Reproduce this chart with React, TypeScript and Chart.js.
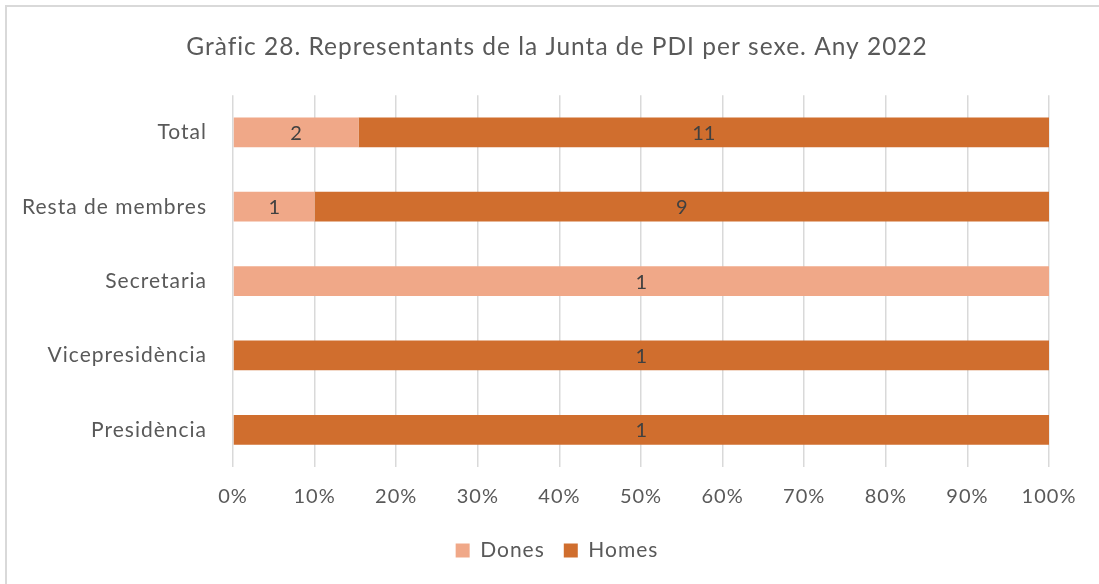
import React, { useEffect, useRef } from "react";
import { Chart, registerables } from "chart.js";

Chart.register(...registerables);

const TITLE = "Gràfic 28. Representants de la Junta de PDI per sexe. Any 2022";
const categories = ["Total", "Resta de membres", "Secretaria", "Vicepresidència", "Presidència"];
const dones = [2, 1, 1, 0, 0];
const homes = [11, 9, 0, 1, 1];
const xTicks = [0, 10, 20, 30, 40, 50, 60, 70, 80, 90, 100];

const COLOR_DONES = "#F0A888";
const COLOR_HOMES = "#D06E2E";
const TEXT = "#595959";
const FONT = "Lato, 'Open Sans', sans-serif";

const totals = categories.map((_, i) => dones[i] + homes[i]);
const pct = (arr: number[]) => arr.map((v, i) => (totals[i] ? (v / totals[i]) * 100 : 0));

const counts = [dones, homes];

const spacingPlugin = {
  id: "letterSpacing",
  beforeUpdate(chart: any) {
    chart.ctx.letterSpacing = "1px";
  },
  beforeDraw(chart: any) {
    chart.ctx.letterSpacing = "1px";
  },
};

const labelPlugin = {
  id: "countLabels",
  afterDatasetsDraw(chart: any) {
    const ctx = chart.ctx;
    ctx.save();
    ctx.letterSpacing = "0px";
    ctx.font = `20px ${FONT}`;
    ctx.fillStyle = "#404040";
    ctx.textAlign = "center";
    ctx.textBaseline = "middle";
    chart.data.datasets.forEach((_: any, di: number) => {
      const meta = chart.getDatasetMeta(di);
      meta.data.forEach((bar: any, i: number) => {
        const v = counts[di][i];
        if (!v) return;
        const x = (bar.x + bar.base) / 2;
        ctx.fillText(String(v), x, bar.y + 1);
      });
    });
    ctx.restore();
  },
};

export default function App() {
  const ref = useRef<HTMLCanvasElement | null>(null);
  useEffect(() => {
    if (!ref.current) return;
    const chart = new Chart(ref.current, {
      type: "bar",
      data: {
        labels: categories,
        datasets: [
          { label: "Dones", data: pct(dones), backgroundColor: COLOR_DONES, categoryPercentage: 1, barPercentage: 0.4 },
          { label: "Homes", data: pct(homes), backgroundColor: COLOR_HOMES, categoryPercentage: 1, barPercentage: 0.4 },
        ],
      },
      options: {
        indexAxis: "y",
        animation: false,
        responsive: false,
        maintainAspectRatio: false,
        layout: { padding: { left: 15, right: 0, top: 0, bottom: 13 } },
        plugins: {
          title: {
            display: true,
            text: TITLE,
            color: TEXT,
            font: { family: FONT, size: 24.5, weight: "normal" },
            padding: { top: 32, bottom: 33.8 },
          },
          legend: {
            position: "bottom",
            labels: {
              color: TEXT,
              font: { family: FONT, size: 21 },
              boxWidth: 14,
              boxHeight: 14,
              padding: 19,
            },
          },
          tooltip: { enabled: false },
        },
        scales: {
          x: {
            stacked: true,
            min: 0,
            max: 100,
            afterBuildTicks: (scale: any) => {
              scale.ticks = xTicks.map((v) => ({ value: v }));
            },
            afterFit: (scale: any) => {
              scale.height = 54;
            },
            ticks: {
              color: TEXT,
              font: { family: FONT, size: 20 },
              padding: 18,
              callback: (v: any) => `${v}%`,
              maxRotation: 0,
            },
            grid: { color: "#D9D9D9", lineWidth: 1.5, drawTicks: false },
            border: { display: false },
          },
          y: {
            stacked: true,
            afterFit: (scale: any) => {
              scale.width = 218;
            },
            ticks: {
              color: TEXT,
              font: { family: FONT, size: 21 },
              padding: 26,
            },
            grid: { display: false, drawTicks: false },
            border: { display: false },
          },
          yRight: {
            type: "category",
            position: "right",
            labels: categories,
            afterFit: (scale: any) => {
              scale.width = 50;
            },
            ticks: { display: false },
            grid: { display: false, drawTicks: false },
            border: { display: false },
          },
        },
      },
      plugins: [spacingPlugin, labelPlugin],
    });
    return () => chart.destroy();
  }, []);

  return (
    <div style={{ position: "absolute", left: 0, top: 0, width: 1099, height: 584, background: "#fff", overflow: "hidden" }}>
      <div
        style={{
          position: "absolute",
          left: 5,
          top: 5,
          width: 1200,
          height: 700,
          borderLeft: "2px solid #D9D9D9",
          borderTop: "2px solid #D9D9D9",
        }}
      />
      <canvas ref={ref} width={1099} height={584} style={{ position: "absolute", left: 0, top: 0, width: 1099, height: 584 }} />
    </div>
  );
}
